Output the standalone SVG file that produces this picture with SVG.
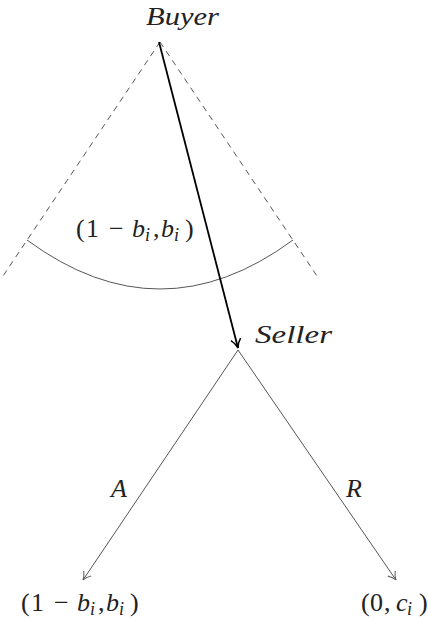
<svg xmlns="http://www.w3.org/2000/svg" width="428" height="619" viewBox="0 0 428 619">
<style>
.t{font-family:"Liberation Serif","Times New Roman",serif;font-size:26px;fill:#222}
.it{font-style:italic}
.sub{font-style:italic;font-size:18px}
.thin{stroke:#555;stroke-width:1;fill:none}
.dash{stroke:#555;stroke-width:1;fill:none;stroke-dasharray:6,5}
</style>
<defs>
<marker id="ah" markerWidth="12" markerHeight="12" refX="10" refY="6" orient="auto" markerUnits="userSpaceOnUse">
<path d="M2,1.5 Q6,5 10,6 Q6,7 2,10.5" fill="none" stroke="#555" stroke-width="1"/>
</marker>
<marker id="ahb" markerWidth="14" markerHeight="14" refX="12" refY="7" orient="auto" markerUnits="userSpaceOnUse">
<path d="M3,2 Q7,6 12,7 Q7,8 3,12" fill="none" stroke="#000" stroke-width="1.5"/>
</marker>
</defs>
<g id="connectors">
<line class="dash" x1="160" y1="42" x2="3" y2="276"/>
<line class="dash" x1="160" y1="42" x2="317" y2="276"/>
<path class="thin" d="M27,240 Q160,338 293,240"/>
<line x1="159" y1="42" x2="238" y2="348" stroke="#000" stroke-width="1.8" marker-end="url(#ahb)"/>
<line class="thin" x1="238" y1="350" x2="83" y2="580" marker-end="url(#ah)"/>
<line class="thin" x1="238" y1="350" x2="396" y2="580" marker-end="url(#ah)"/>
<text class="t it" x="111" y="497">A</text>
<text class="t it" x="346" y="497">R</text>
</g>
<g id="buyer"><text class="t it" x="146" y="25" textLength="73" lengthAdjust="spacingAndGlyphs">Buyer</text></g>
<g id="info"><text class="t" x="76" y="237">(<tspan x="86">1</tspan><tspan x="109">−</tspan><tspan class="it" x="132">b</tspan><tspan class="sub" x="145" y="241">i</tspan><tspan x="153" y="237">,</tspan><tspan class="it" x="161">b</tspan><tspan class="sub" x="174" y="241">i</tspan><tspan x="185" y="237">)</tspan></text></g>
<g id="seller"><text class="t it" x="255" y="343" textLength="77" lengthAdjust="spacingAndGlyphs">Seller</text></g>
<g id="outcomeA"><text class="t" x="21" y="611">(<tspan x="31">1</tspan><tspan x="54">−</tspan><tspan class="it" x="77">b</tspan><tspan class="sub" x="90" y="615">i</tspan><tspan x="98" y="611">,</tspan><tspan class="it" x="106">b</tspan><tspan class="sub" x="119" y="615">i</tspan><tspan x="130" y="611">)</tspan></text></g>
<g id="outcomeR"><text class="t" x="361" y="611">(<tspan x="370">0</tspan><tspan x="384">,</tspan><tspan class="it" x="396">c</tspan><tspan class="sub" x="407" y="615">i</tspan><tspan x="419" y="611">)</tspan></text></g>
</svg>
